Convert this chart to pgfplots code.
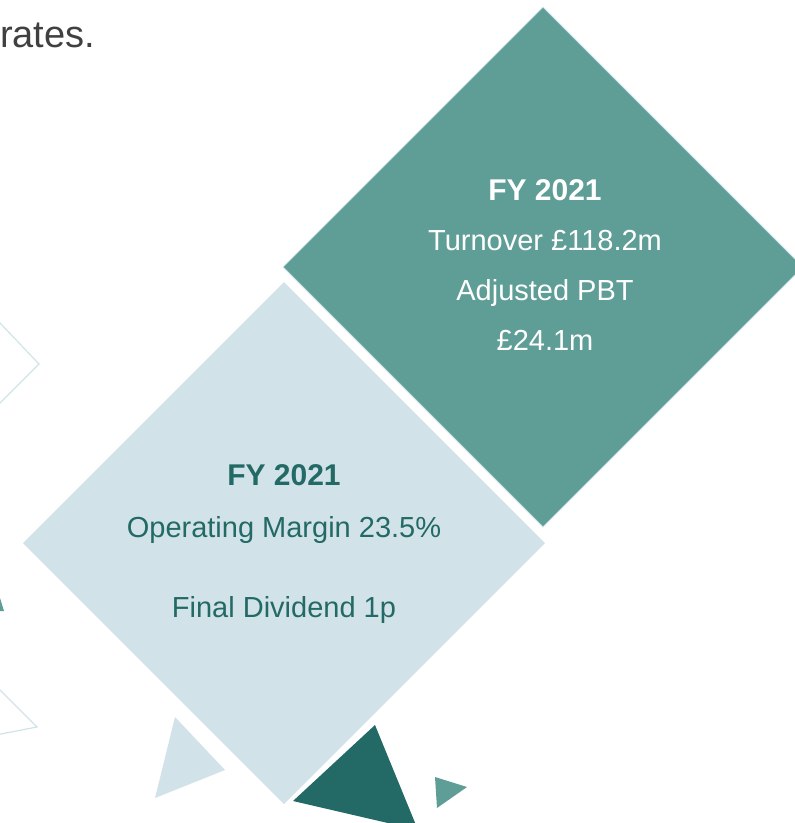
\documentclass[border=0pt]{standalone}
\usepackage{pgfplots}
\pgfplotsset{compat=1.18}
\usepackage{fontspec}
\setmainfont{Liberation Sans}
\definecolor{midteal}{RGB}{95,158,150}
\definecolor{paleblue}{RGB}{209,227,233}
\definecolor{darkteal}{RGB}{35,105,102}
\definecolor{bodygray}{RGB}{64,64,64}
\begin{document}
\begin{tikzpicture}
\begin{axis}[
    name=canvas,
    scale only axis,
    width=795pt, height=823pt,
    xmin=0, xmax=795, ymin=0, ymax=823,
    y dir=reverse,
    hide axis,
    clip=true,
]
% outlined shapes at the left edge
\addplot[draw=paleblue, line width=1.2pt, fill=none] coordinates {(-40,364)(0,323)(39,364)(0,403)(-40,364)};
\addplot[draw=paleblue, line width=1.2pt, fill=none] coordinates {(-30,660)(37,727)(-20,738)};
% tiny teal tip at the left
\addplot[fill=midteal, draw=none] coordinates {(0,598)(4,611)(-4,611)};
% the two diamonds
\addplot[fill=paleblue, draw=none] coordinates {(284,282)(545,543)(284,804)(23,543)(284,282)};
\addplot[fill=midteal, draw=paleblue, line width=1pt, line join=miter] coordinates {(543,7)(803,267)(543,527)(283,267)(543,7)};
% small triangles below
\addplot[fill=paleblue, draw=none] coordinates {(175,717)(225,770)(155,798)};
\addplot[fill=darkteal, draw=none] coordinates {(375,725)(293,801)(418,830)};
\addplot[fill=midteal, draw=none] coordinates {(435,777)(467,787)(437,808)};
% texts
\node[anchor=base west, font=\fontsize{38}{40}\selectfont, text=bodygray, inner sep=0pt] at (axis cs:0,47) {rates.};
\node[anchor=base, font=\fontsize{30}{32}\selectfont\bfseries, text=white] at (axis cs:545,200) {FY 2021};
\node[anchor=base, font=\fontsize{29}{32}\selectfont, text=white] at (axis cs:545,250) {Turnover £118.2m};
\node[anchor=base, font=\fontsize{29}{32}\selectfont, text=white] at (axis cs:545,300) {Adjusted PBT};
\node[anchor=base, font=\fontsize{29}{32}\selectfont, text=white] at (axis cs:545,350) {£24.1m};
\node[anchor=base, font=\fontsize{30}{32}\selectfont\bfseries, text=darkteal] at (axis cs:284,485) {FY 2021};
\node[anchor=base, font=\fontsize{29}{32}\selectfont, text=darkteal] at (axis cs:284,537) {Operating Margin 23.5\%};
\node[anchor=base, font=\fontsize{29}{32}\selectfont, text=darkteal] at (axis cs:284,617) {Final Dividend 1p};
\end{axis}
\pgfresetboundingbox
\useasboundingbox (canvas.south west) rectangle (canvas.north east);
\end{tikzpicture}
\end{document}
